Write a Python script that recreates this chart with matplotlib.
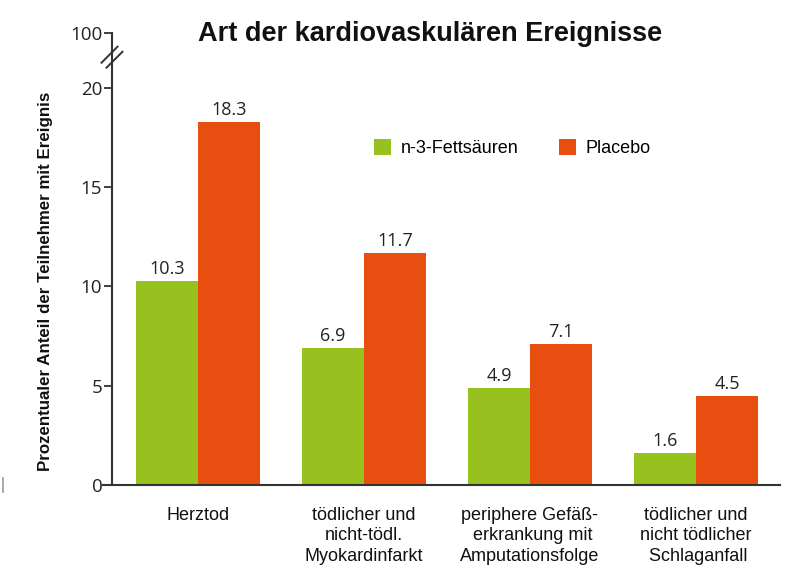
import matplotlib
matplotlib.use("Agg")
import matplotlib.pyplot as plt
from matplotlib.lines import Line2D
from matplotlib.patches import Patch
import numpy as np

categories = ["Herztod",
              "tödlicher und\nnicht-tödl.\nMyokardinfarkt",
              "periphere Gefäß-\n erkrankung mit\nAmputationsfolge",
              "tödlicher und\nnicht tödlicher\n Schlaganfall"]
omega3 = [10.3, 6.9, 4.9, 1.6]
placebo = [18.3, 11.7, 7.1, 4.5]
series_names = ["n-3-Fettsäuren", "Placebo"]
ytick_vals = [0, 5, 10, 15, 20]
top_label = "100"
top_pos = 22.77  # position where the broken axis shows 100
break_pos = 21.55

green = "#97c11f"
orange = "#e84e10"
axcol = "#333333"

W, H = 800, 582
fig = plt.figure(figsize=(W / 100, H / 100), dpi=100)
ax_left_px, ax_right_px = 103, 780
ax_top_px, ax_bot_px = 33, 485
ax = fig.add_axes([ax_left_px / W, 1 - ax_bot_px / H,
                   (ax_right_px - ax_left_px) / W, (ax_bot_px - ax_top_px) / H])

x = np.arange(len(categories))
bw = 0.373
ax.bar(x - bw / 2, omega3, bw, color=green, linewidth=0)
ax.bar(x + bw / 2, placebo, bw, color=orange, linewidth=0)

spine_x = -0.518
ax.set_xlim(spine_x - 9 / 166, 3.506)
ax.set_ylim(0, top_pos)

for s in ["top", "right"]:
    ax.spines[s].set_visible(False)
ax.spines["left"].set_position(("data", spine_x))
for s in ["left", "bottom"]:
    ax.spines[s].set_color(axcol)
    ax.spines[s].set_linewidth(1.5)

numfont = dict(family=["Open Sans", "DejaVu Sans"])
ax.set_yticks(ytick_vals + [top_pos])
ax.set_yticklabels([str(v) for v in ytick_vals] + [top_label],
                   fontsize=13.5, color="#222222", **numfont)
ax.tick_params(axis="y", direction="out", length=6, width=1.3, color=axcol, pad=1)
ax.set_xticks(x)
ax.set_xticklabels(categories, fontsize=13, family=["Liberation Sans", "DejaVu Sans"],
                   linespacing=1.25, va="top", ha="center", multialignment="center",
                   color="#111111")
ax.tick_params(axis="x", length=0, pad=16)

for xi, v in zip(x, omega3):
    ax.annotate(f"{v}", (xi - bw / 2, v), xytext=(0, 2), textcoords="offset points",
                ha="center", va="bottom", fontsize=13, color="#222222", **numfont)
for xi, v in zip(x, placebo):
    ax.annotate(f"{v}", (xi + bw / 2, v), xytext=(0, 2), textcoords="offset points",
                ha="center", va="bottom", fontsize=13, color="#222222", **numfont)

# axis break marks
fig.canvas.draw()
px, py = ax.transData.transform((spine_x, break_pos))
for off in (-2.5, 2.5):
    fig.add_artist(Line2D([px - 8 + off, px + 8 + off], [py - 8 - off, py + 8 - off],
                          transform=None, color=axcol, linewidth=1.4))

ax.set_ylabel("Prozentualer Anteil der Teilnehmer mit Ereignis", fontsize=12.2,
              fontweight="bold", family=["Liberation Sans", "DejaVu Sans"], color="#111111")
ax.yaxis.set_label_coords(53 / W, 1 - 281 / H, transform=fig.transFigure)

fig.text(430 / W, 1 - 34 / H, "Art der kardiovaskulären Ereignisse", fontsize=19.5,
         fontweight="bold", ha="center", va="center",
         family=["Liberation Sans", "DejaVu Sans"], color="#111111")

handles = [Patch(facecolor=green, edgecolor="none"), Patch(facecolor=orange, edgecolor="none")]
ax.legend(handles, series_names, ncol=2, frameon=False, loc="upper left",
          bbox_to_anchor=(374 / W, 1 - 139 / H), bbox_transform=fig.transFigure,
          borderpad=0, borderaxespad=0, handlelength=0.95, handleheight=0.95,
          handletextpad=0.55, columnspacing=2.2,
          prop=dict(family=["Liberation Sans", "DejaVu Sans"], size=13))

# small stray mark at the left edge of the reference
fig.add_artist(Line2D([3 / W, 3 / W], [1 - 478 / H, 1 - 492 / H], transform=fig.transFigure,
                      color="#999999", linewidth=1.2))

fig.savefig("out.png", dpi=100)
